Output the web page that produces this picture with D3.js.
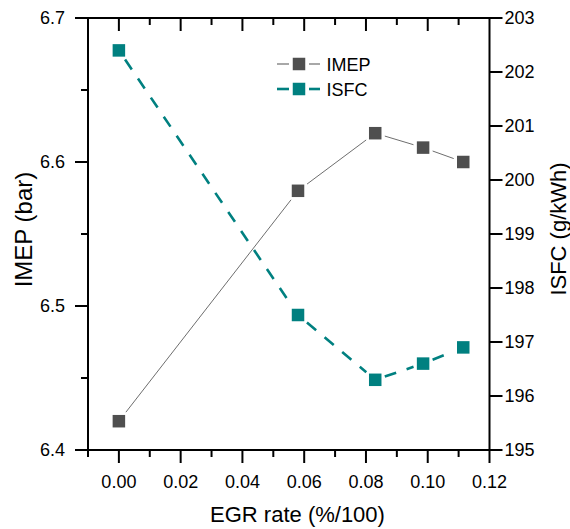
<!DOCTYPE html>
<html>
<head>
<meta charset="utf-8">
<script src="https://cdn.jsdelivr.net/npm/d3@7"></script>
<style>
  html, body { margin: 0; padding: 0; background: #fff; }
  svg { display: block; }
  text { font-family: "Liberation Sans", Arial, sans-serif; fill: #000; }
</style>
</head>
<body>
<svg id="chart" width="570" height="529"></svg>
<script>
// ---- data ----
const egrRate = [0, 0.058, 0.083, 0.0985, 0.1115];
const imepValues = [6.42, 6.58, 6.62, 6.61, 6.60];
const isfcValues = [202.4, 197.5, 196.3, 196.6, 196.9];
const seriesNames = ["IMEP", "ISFC"];
const xMajorTicks = [0, 0.02, 0.04, 0.06, 0.08, 0.10, 0.12];
const xMinorTicks = [-0.01, 0.01, 0.03, 0.05, 0.07, 0.09, 0.11];
const yLeftTicks = [6.4, 6.5, 6.6, 6.7];
const yLeftMinorTicks = [6.45, 6.55, 6.65];
const yRightTicks = [195, 196, 197, 198, 199, 200, 201, 202, 203];
const xLabel = "EGR rate (%/100)";
const yLeftLabel = "IMEP (bar)";
const yRightLabel = "ISFC (g/kWh)";

// ---- layout ----
const L = 88, R = 489.5, T = 18, B = 450;
const svg = d3.select("#chart");

const x = d3.scaleLinear().domain([-0.01, 0.12]).range([L, R]);
const yL = d3.scaleLinear().domain([6.4, 6.7]).range([B, T]);
const yR = d3.scaleLinear().domain([195, 203]).range([B, T]);

const colImep = "#4f4f4f", colImepLine = "#6e6e6e", colIsfc = "#008080";
const MS = 12.5, GAP = 3.5;

function styleAxis(g) {
  g.select(".domain").remove();
  g.selectAll(".tick line").attr("stroke", "#000").attr("stroke-width", 2);
  g.selectAll(".tick text").style("font-size", "18px").attr("fill", "#000");
}

// bottom axis
svg.append("g").attr("transform", `translate(0,${B})`)
  .call(d3.axisBottom(x).tickValues(xMinorTicks).tickSize(7).tickFormat("").offset(0))
  .call(styleAxis);
svg.append("g").attr("transform", `translate(0,${B})`)
  .call(d3.axisBottom(x).tickValues(xMajorTicks).tickSize(13).tickPadding(12)
        .tickFormat(d3.format(".2f")).offset(0))
  .call(styleAxis);
// top axis (inward)
svg.append("g").attr("transform", `translate(0,${T})`)
  .call(d3.axisTop(x).tickValues(xMinorTicks.filter(d => d > -0.01)).tickSize(-7).tickFormat("").offset(0))
  .call(styleAxis);
svg.append("g").attr("transform", `translate(0,${T})`)
  .call(d3.axisTop(x).tickValues(xMajorTicks.filter(d => d < 0.12)).tickSize(-13).tickFormat("").offset(0))
  .call(styleAxis);
// left axis
svg.append("g").attr("transform", `translate(${L},0)`)
  .call(d3.axisLeft(yL).tickValues(yLeftMinorTicks).tickSize(7).tickFormat("").offset(0))
  .call(styleAxis);
svg.append("g").attr("transform", `translate(${L},0)`)
  .call(d3.axisLeft(yL).tickValues(yLeftTicks).tickSize(13).tickPadding(10)
        .tickFormat(d3.format(".1f")).offset(0))
  .call(styleAxis);
// right axis
svg.append("g").attr("transform", `translate(${R},0)`)
  .call(d3.axisRight(yR).tickValues(yRightTicks).tickSize(13).tickPadding(2)
        .tickFormat(d3.format("d")).offset(0))
  .call(styleAxis);

// frame
svg.append("rect").attr("x", L).attr("y", T).attr("width", R - L).attr("height", B - T)
  .attr("fill", "none").attr("stroke", "#000").attr("stroke-width", 2);

// axis titles
svg.append("text").attr("x", 297.5).attr("y", 521.5).attr("text-anchor", "middle")
  .style("font-size", "22px").text(xLabel);
svg.append("text").attr("transform", "translate(32,229.5) rotate(-90)").attr("text-anchor", "middle")
  .style("font-size", "24px").text(yLeftLabel);
svg.append("text").attr("transform", "translate(566,229) rotate(-90)").attr("text-anchor", "middle")
  .style("font-size", "22px").text(yRightLabel);

// series drawing: segments shortened at marker edges (gap), then markers
function drawSeries(pts, color, lineColor, width, dash) {
  const g = svg.append("g");
  for (let i = 0; i < pts.length - 1; i++) {
    const [x1, y1] = pts[i], [x2, y2] = pts[i + 1];
    const dx = x2 - x1, dy = y2 - y1, len = Math.hypot(dx, dy);
    const ux = dx / len, uy = dy / len;
    const off = (MS / 2) / Math.max(Math.abs(ux), Math.abs(uy)) + GAP;
    g.append("line")
      .attr("x1", x1 + ux * off).attr("y1", y1 + uy * off)
      .attr("x2", x2 - ux * off).attr("y2", y2 - uy * off)
      .attr("stroke", lineColor).attr("stroke-width", width)
      .attr("stroke-dasharray", dash || null);
  }
  g.selectAll("rect.m").data(pts).enter().append("rect")
    .attr("x", d => d[0] - MS / 2).attr("y", d => d[1] - MS / 2)
    .attr("width", MS).attr("height", MS).attr("fill", color);
}

const imepPts = egrRate.map((e, i) => [x(e), yL(imepValues[i])]);
const isfcPts = egrRate.map((e, i) => [x(e), yR(isfcValues[i])]);
drawSeries(imepPts, colImep, colImepLine, 1, null);
drawSeries(isfcPts, colIsfc, colIsfc, 2.6, "12,11");

// legend
const legend = [
  { name: seriesNames[0], color: colImep, line: colImepLine, w: 1.2 },
  { name: seriesNames[1], color: colIsfc, line: colIsfc, w: 2.6 }
];
legend.forEach((d, i) => {
  const cy = 64 + i * 25;
  const g = svg.append("g");
  g.append("line").attr("x1", 277).attr("x2", 289).attr("y1", cy).attr("y2", cy)
    .attr("stroke", d.line).attr("stroke-width", d.w);
  g.append("line").attr("x1", 309).attr("x2", 320).attr("y1", cy).attr("y2", cy)
    .attr("stroke", d.line).attr("stroke-width", d.w);
  g.append("rect").attr("x", 299 - MS / 2).attr("y", cy - MS / 2)
    .attr("width", MS).attr("height", MS).attr("fill", d.color);
  g.append("text").attr("x", 326.5).attr("y", cy + 6.5).style("font-size", "18px").text(d.name);
});
</script>
</body>
</html>
